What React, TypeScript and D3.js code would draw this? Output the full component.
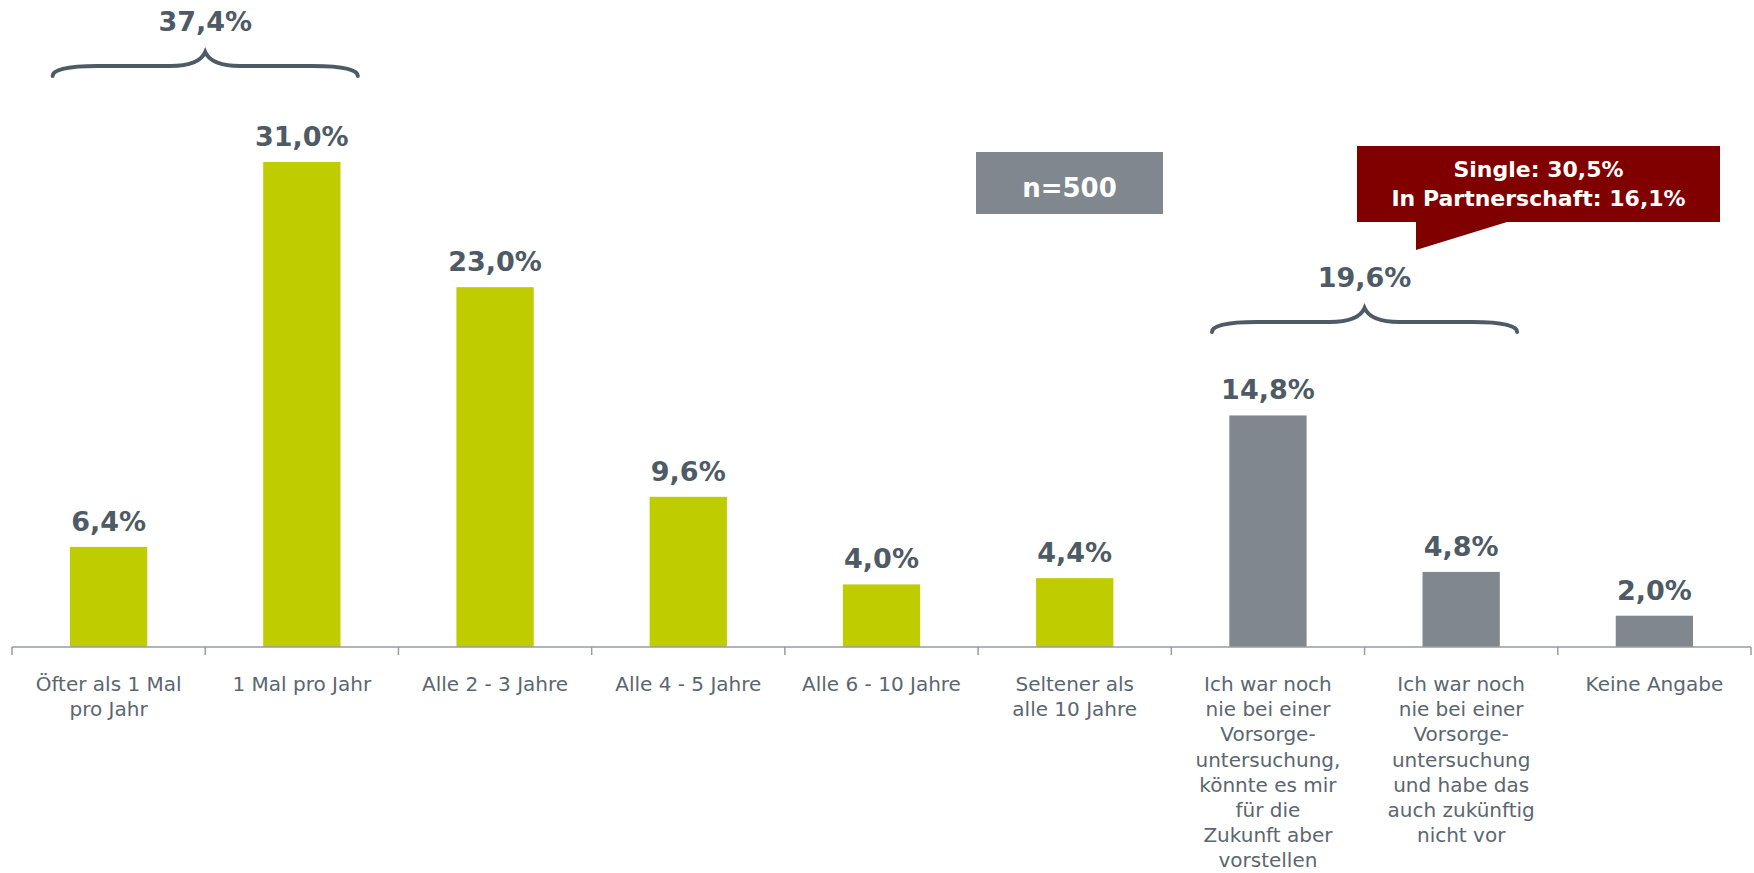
import { useEffect } from 'react';
import * as d3 from 'd3';

const categories = [
  'Öfter als 1 Mal pro Jahr',
  '1 Mal pro Jahr',
  'Alle 2 - 3 Jahre',
  'Alle 4 - 5 Jahre',
  'Alle 6 - 10 Jahre',
  'Seltener als alle 10 Jahre',
  'Ich war noch nie bei einer Vorsorge-untersuchung, könnte es mir für die Zukunft aber vorstellen',
  'Ich war noch nie bei einer Vorsorge-untersuchung und habe das auch zukünftig nicht vor',
  'Keine Angabe',
];

// wrapped label lines, as in the slide
const labelLines = [
  ['Öfter als 1 Mal', 'pro Jahr'],
  ['1 Mal pro Jahr'],
  ['Alle 2 - 3 Jahre'],
  ['Alle 4 - 5 Jahre'],
  ['Alle 6 - 10 Jahre'],
  ['Seltener als', 'alle 10 Jahre'],
  ['Ich war noch', 'nie bei einer', 'Vorsorge-', 'untersuchung,', 'könnte es mir', 'für die', 'Zukunft aber', 'vorstellen'],
  ['Ich war noch', 'nie bei einer', 'Vorsorge-', 'untersuchung', 'und habe das', 'auch zukünftig', 'nicht vor'],
  ['Keine Angabe'],
];

const values = [6.4, 31.0, 23.0, 9.6, 4.0, 4.4, 14.8, 4.8, 2.0];
const groups = ['ja', 'ja', 'ja', 'ja', 'ja', 'ja', 'nie', 'nie', 'keine'];

// summary braces over pairs of categories
const braces = [
  { from: 0, to: 1, label: '37,4%' },
  { from: 6, to: 7, label: '19,6%' },
];

const calloutLines = ['Single: 30,5%', 'In Partnerschaft: 16,1%'];
const sampleLabel = 'n=500';

const WIDTH = 1754;
const HEIGHT = 873;
const AXIS_Y = 647;
const FONT = '"DejaVu Sans", Verdana, sans-serif';
const GREEN = '#bfcc00';
const GREY = '#80878f';
const DARK = '#4e5a65';
const LABEL = '#5b6670';

const fmt = (v: number) => v.toFixed(1).replace('.', ',') + '%';

function bracePath(x0: number, x1: number, y0: number) {
  const cx = (x0 + x1) / 2;
  const flat = y0 - 10;
  const peak = y0 - 24;
  return [
    `M${x0},${y0}`,
    `Q${x0},${flat} ${x0 + 45},${flat}`,
    `L${cx - 35},${flat}`,
    `Q${cx - 6},${flat} ${cx},${peak}`,
    `Q${cx + 6},${flat} ${cx + 35},${flat}`,
    `L${x1 - 45},${flat}`,
    `Q${x1},${flat} ${x1},${y0}`,
  ].join(' ');
}

export default function App() {
  useEffect(() => {
    document.body.style.margin = '0';
  }, []);

  const x = d3
    .scaleBand<string>()
    .domain(categories)
    .range([12, 1751])
    .paddingInner(0.6)
    .paddingOuter(0.3);
  const step = x.step();
  const left = x.range()[0];

  const y = d3.scaleLinear().domain([0, 31]).range([AXIS_Y, 162]);

  const center = (i: number) => x(categories[i])! + x.bandwidth() / 2;

  return (
    <svg width={WIDTH} height={HEIGHT} style={{ display: 'block', fontFamily: FONT }}>
      <rect width={WIDTH} height={HEIGHT} fill="#fff" />

      {/* bars */}
      {values.map((v, i) => (
        <rect
          key={i}
          x={x(categories[i])}
          y={y(v)}
          width={x.bandwidth()}
          height={AXIS_Y - y(v)}
          fill={groups[i] === 'ja' ? GREEN : GREY}
        />
      ))}

      {/* axis */}
      <line x1={left} x2={left + step * categories.length} y1={AXIS_Y} y2={AXIS_Y} stroke="#979ca2" strokeWidth={1.5} />
      {d3.range(categories.length + 1).map((i) => (
        <line
          key={i}
          x1={left + i * step}
          x2={left + i * step}
          y1={AXIS_Y}
          y2={AXIS_Y + 8}
          stroke="#979ca2"
          strokeWidth={1.5}
        />
      ))}

      {/* value labels */}
      {values.map((v, i) => (
        <text
          key={i}
          x={center(i)}
          y={y(v) - 16}
          textAnchor="middle"
          fontSize={27}
          fontWeight="bold"
          fill={DARK}
        >
          {fmt(v)}
        </text>
      ))}

      {/* category labels */}
      {labelLines.map((lines, i) => (
        <text key={i} x={left + (i + 0.5) * step} y={691} textAnchor="middle" fontSize={20} fill={LABEL}>
          {lines.map((l, j) => (
            <tspan key={j} x={left + (i + 0.5) * step} dy={j === 0 ? 0 : 25.2}>
              {l}
            </tspan>
          ))}
        </text>
      ))}

      {/* braces */}
      {braces.map((b, i) => {
        const x0 = center(b.from) - 56;
        const x1 = center(b.to) + 56;
        const yTop = i === 0 ? 76 : 332;
        return (
          <g key={i}>
            <path d={bracePath(x0, x1, yTop)} fill="none" stroke={DARK} strokeWidth={4} strokeLinecap="round" />
            <text x={(x0 + x1) / 2} y={yTop - 45} textAnchor="middle" fontSize={27} fontWeight="bold" fill={DARK}>
              {b.label}
            </text>
          </g>
        );
      })}

      {/* sample size box */}
      <rect x={976} y={152} width={187} height={62} fill={GREY} />
      <text x={1069.5} y={197} textAnchor="middle" fontSize={26} fontWeight="bold" fill="#fff">
        {sampleLabel}
      </text>

      {/* callout */}
      <path d="M1357,146 L1720,146 L1720,222 L1507,222 L1416,250 L1416,222 L1357,222 Z" fill="#800000" />
      {calloutLines.map((l, i) => (
        <text key={i} x={1538.5} y={177 + i * 28.5} textAnchor="middle" fontSize={22} fontWeight="bold" fill="#fff">
          {l}
        </text>
      ))}
    </svg>
  );
}
